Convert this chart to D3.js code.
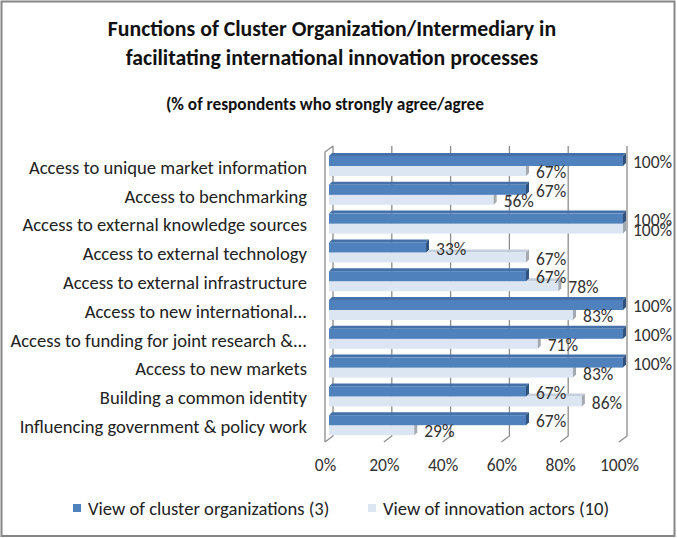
<!DOCTYPE html>
<html>
<head>
<meta charset="utf-8">
<script src="https://cdn.jsdelivr.net/npm/d3@7"></script>
<style>
  body { margin: 0; background: #fff; }
  svg { display: block; font-family: Calibri, Carlito, Lato, sans-serif; }
</style>
</head>
<body>
<script>
// chart values
var categories = [
  "Access to unique market information",
  "Access to benchmarking",
  "Access to external knowledge sources",
  "Access to external technology",
  "Access to external infrastructure",
  "Access to new international...",
  "Access to funding for joint research &...",
  "Access to new markets",
  "Building a common identity",
  "Influencing government & policy work"
];
var seriesNames = ["View of cluster organizations (3)", "View of innovation actors (10)"];
var clusterOrgs = [100, 67, 100, 33, 67, 100, 100, 100, 67, 67];
var innovationActors = [67, 56, 100, 67, 78, 83, 71, 83, 86, 29];
var tickValues = [0, 20, 40, 60, 80, 100];

var W = 677, H = 538;
var depth = {dx: 8, dy: -6};   // 3d wall depth
var bar = {dx: 4, face: 3};    // bars sit half way in

var colors = [
  {front: "#4f81bd", top: "#4471aa", side: "#2f527f"},
  {front: "#dce6f2", top: "#c5cfdb", side: "#a3a9b1"}
];

var svg = d3.select("body").append("svg")
    .attr("width", W)
    .attr("height", H);

// outer frame
svg.append("rect")
    .attr("x", 1.5).attr("y", 1.5)
    .attr("width", W - 4).attr("height", H - 3.5)
    .attr("fill", "#fff")
    .attr("stroke", "#868686")
    .attr("stroke-width", 2);

// titles
svg.append("text")
    .attr("x", 332).attr("y", 36)
    .attr("text-anchor", "middle")
    .attr("font-weight", "bold").attr("font-size", 21.8)
    .attr("fill", "#111")
    .text("Functions of Cluster Organization/Intermediary in");
svg.append("text")
    .attr("x", 332).attr("y", 65)
    .attr("text-anchor", "middle")
    .attr("font-weight", "bold").attr("font-size", 21.8)
    .attr("fill", "#111")
    .text("facilitating international innovation processes");
svg.append("text")
    .attr("x", 325).attr("y", 110)
    .attr("text-anchor", "middle")
    .attr("font-weight", "bold").attr("font-size", 17.3)
    .attr("fill", "#111")
    .text("(% of respondents who strongly agree/agree");

var x = d3.scaleLinear().domain([0, 100]).range([325, 619]);
var y = d3.scaleBand().domain(categories).range([150, 438]);
var inner = d3.scaleBand().domain([0, 1]).range([6, 26]);

var floorY = 442, wallTop = 152;

var plot = svg.append("g");

// back wall gridlines + floor slants
tickValues.forEach(function(t) {
  plot.append("path")
      .attr("d", d3.line()([
        [x(t) + depth.dx, wallTop + depth.dy],
        [x(t) + depth.dx, floorY + depth.dy],
        [x(t), floorY]
      ]))
      .attr("fill", "none")
      .attr("stroke", "#8c8c8c")
      .attr("stroke-width", 1.3);
});

// left side wall
plot.append("path")
    .attr("d", d3.line()([
      [x(0), floorY],
      [x(0), wallTop],
      [x(0) + depth.dx, wallTop + depth.dy]
    ]))
    .attr("fill", "none")
    .attr("stroke", "#8c8c8c")
    .attr("stroke-width", 1.3);

// bars
var data = categories.map(function(c, i) {
  return {cat: c, vals: [clusterOrgs[i], innovationActors[i]]};
});

var rows = plot.selectAll("g.row")
  .data(data)
  .join("g")
    .attr("class", "row")
    .attr("transform", function(d) { return "translate(0," + y(d.cat) + ")"; });

// draw light series first so the dark bar covers its top face
[1, 0].forEach(function(s) {
  rows.each(function(d) {
    var g = d3.select(this);
    var x0 = x(0) + bar.dx, x1 = x(d.vals[s]) + bar.dx;
    var y0 = inner(s), h = inner.bandwidth();
    var f = bar.face;
    g.append("path")
        .attr("d", d3.line()([[x0, y0], [x0 + f, y0 - f], [x1 + f, y0 - f], [x1, y0]]) + "Z")
        .attr("fill", colors[s].top);
    g.append("rect")
        .attr("x", x0).attr("y", y0)
        .attr("width", x1 - x0).attr("height", h)
        .attr("fill", colors[s].front);
    g.append("path")
        .attr("d", d3.line()([[x1, y0], [x1 + f, y0 - f], [x1 + f, y0 + h - f], [x1, y0 + h]]) + "Z")
        .attr("fill", colors[s].side);
  });
});

// data labels
[0, 1].forEach(function(s) {
  rows.append("text")
      .attr("x", function(d) { return x(d.vals[s]) + bar.dx + bar.face + 7; })
      .attr("y", inner(s) + inner.bandwidth() / 2 + 1)
      .attr("dy", "0.35em")
      .attr("font-size", 17.5)
      .attr("fill", "#333")
      .text(function(d) { return d.vals[s] + "%"; });
});

// category axis
var yAxis = svg.append("g")
    .attr("transform", "translate(307,3.5)")
    .call(d3.axisLeft(y).tickSize(0).tickPadding(0));
yAxis.select(".domain").remove();
yAxis.attr("font-family", null).attr("font-size", null);
yAxis.selectAll("text")
    .attr("font-size", 18.6)
    .attr("fill", "#222");

// value axis
var xAxis = svg.append("g")
    .attr("transform", "translate(0,456)")
    .call(d3.axisBottom(x).tickValues(tickValues).tickSize(0).tickPadding(3)
      .tickFormat(function(d) { return d + "%"; }));
xAxis.select(".domain").remove();
xAxis.attr("font-family", null).attr("font-size", null);
xAxis.selectAll("text")
    .attr("font-size", 17.5)
    .attr("fill", "#333");

// legend
var legend = svg.append("g").attr("transform", "translate(0,508)");
var legX = [73, 368];
seriesNames.forEach(function(n, i) {
  legend.append("rect")
      .attr("x", legX[i]).attr("y", -4)
      .attr("width", 8).attr("height", 8)
      .attr("fill", colors[i].front);
  legend.append("text")
      .attr("x", legX[i] + 15).attr("y", 0)
      .attr("dy", "0.35em")
      .attr("font-size", 18.6)
      .attr("fill", "#222")
      .text(n);
});
</script>
</body>
</html>
